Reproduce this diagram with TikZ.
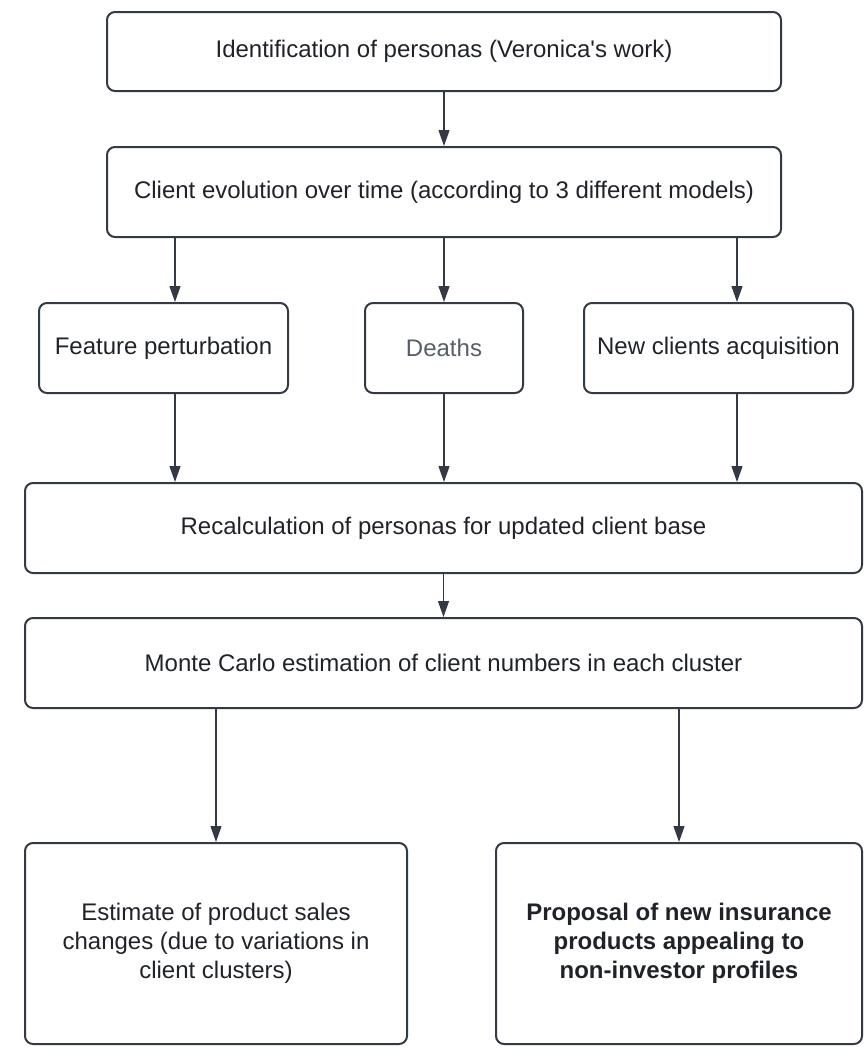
\documentclass[tikz,border=0pt]{standalone}
\usepackage{fontspec}
\setmainfont{Liberation Sans}
\usepackage{xcolor}
\usetikzlibrary{arrows.meta,positioning,calc}
\definecolor{edgegray}{RGB}{51,58,69}
\definecolor{textgray}{RGB}{31,35,41}
\definecolor{softgray}{RGB}{88,94,104}

\begin{document}
\begin{tikzpicture}[x=0.5pt,y=-0.5pt,
    box/.style={draw=edgegray, line width=1pt, rounded corners=4pt, align=center,
        text=textgray, font=\fontsize{12}{14.5}\selectfont, inner sep=0pt},
    arr/.style={draw=edgegray, line width=0.6pt, -{Triangle[length=8pt,width=5.5pt]}}]
    \useasboundingbox (0,0) rectangle (866,1056);

    \node[box, minimum width=337pt, minimum height=39.5pt] (ident) at (444,51.5)
        {Identification of personas (Veronica\textquotesingle s work)};
    \node[box, minimum width=337pt, minimum height=45pt] (evol) at (444,192)
        {Client evolution over time (according to 3 different models)};

    \node[box, minimum width=124.5pt, minimum height=45pt] (pert) at (163.5,348)
        {Feature perturbation};
    \node[box, minimum width=79pt, minimum height=45pt, text=softgray] (death) at (444,348)
        {Deaths};
    \node[box, minimum width=134.5pt, minimum height=45pt] (acq) at (718.5,348)
        {New clients acquisition};

    \node[box, minimum width=418.5pt, minimum height=45pt] (recalc) at (443.5,528)
        {Recalculation of personas for updated client base};
    \node[box, minimum width=418.5pt, minimum height=45pt] (monte) at (443.5,663)
        {Monte Carlo estimation of client numbers in each cluster};

    \node[box, minimum width=191pt, minimum height=100.5pt] (sales) at (216,943.5)
        {Estimate of product sales\\changes (due to variations in\\client clusters)};
    \node[box, minimum width=183pt, minimum height=100.5pt, font=\fontsize{12}{14.5}\selectfont\bfseries] (prop) at (679,943.5)
        {Proposal of new insurance\\products appealing to\\non-investor profiles};

    \coordinate (lcol) at ([xshift=5.75pt]pert.north);
    \coordinate (rcol) at ([xshift=9.25pt]acq.north);

    \draw[arr] (ident) -- (evol);
    \draw[arr] (lcol |- evol.south) -- (lcol);
    \draw[arr] (evol) -- (death);
    \draw[arr] (rcol |- evol.south) -- (rcol);
    \draw[arr] (lcol |- pert.south) -- (lcol |- recalc.north);
    \draw[arr] (death) -- (death |- recalc.north);
    \draw[arr] (rcol |- acq.south) -- (rcol |- recalc.north);
    \draw[arr] (recalc) -- (monte);
    \draw[arr] (sales.north |- monte.south) -- (sales);
    \draw[arr] (prop.north |- monte.south) -- (prop);
\end{tikzpicture}
\end{document}
